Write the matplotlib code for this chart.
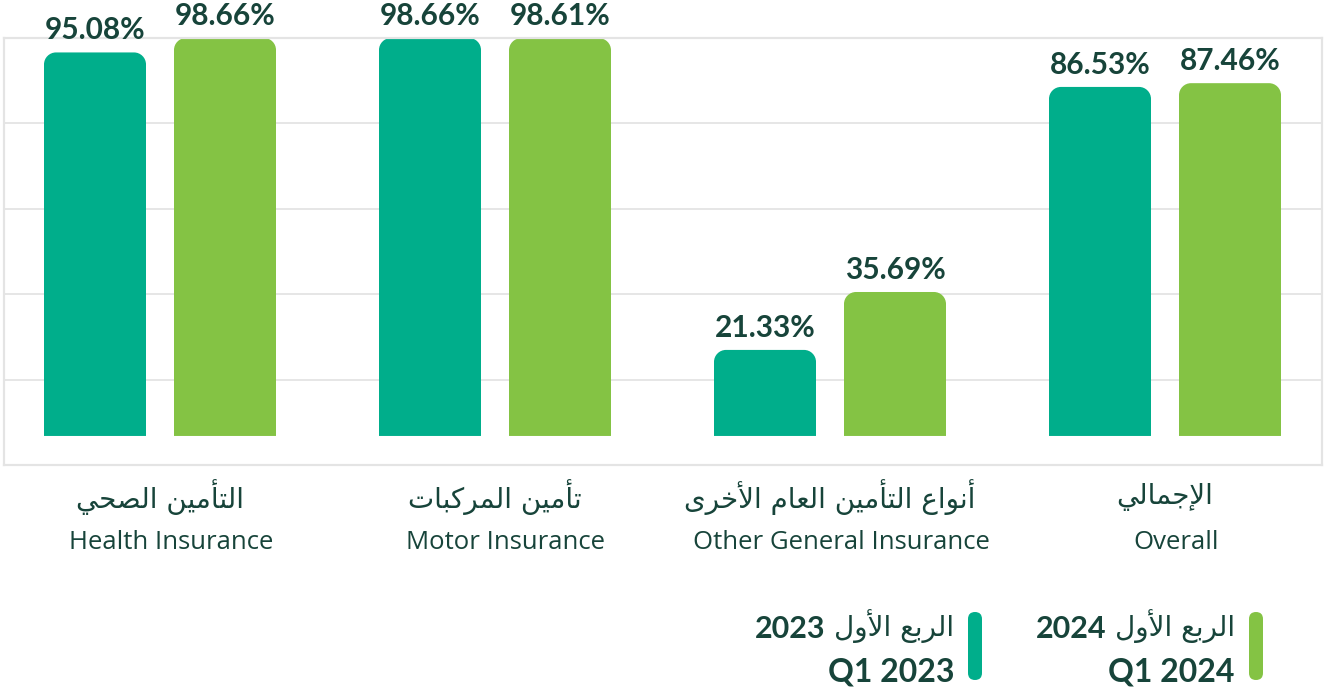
import numpy as np
import matplotlib
matplotlib.use("Agg")
import matplotlib.pyplot as plt
from matplotlib.path import Path
from matplotlib.patches import PathPatch, FancyBboxPatch
from matplotlib.transforms import blended_transform_factory, IdentityTransform

# data
cats_ar = ["التأمين الصحي", "تأمين المركبات", "أنواع التأمين العام الأخرى", "الإجمالي"]
cats_en = ["Health Insurance", "Motor Insurance", "Other General Insurance", "Overall"]
q1_2023 = [95.08, 98.66, 21.33, 86.53]
q1_2024 = [98.66, 98.61, 35.69, 87.46]
series_ar = ["الربع الأول", "الربع الأول"]
series_year = ["2023", "2024"]
series_en = ["Q1 2023", "Q1 2024"]

TEAL = "#00AE8B"
GREEN = "#84C344"
INK = "#17443A"
GRID = "#E4E4E4"

# very small arabic shaper (presentation forms) since matplotlib has no shaping
FORMS = {
    'ا': (0xFE8D, 0xFE8E), 'أ': (0xFE83, 0xFE84), 'إ': (0xFE87, 0xFE88),
    'ب': (0xFE8F, 0xFE90, 0xFE91, 0xFE92), 'ت': (0xFE95, 0xFE96, 0xFE97, 0xFE98),
    'ج': (0xFE9D, 0xFE9E, 0xFE9F, 0xFEA0), 'ح': (0xFEA1, 0xFEA2, 0xFEA3, 0xFEA4),
    'خ': (0xFEA5, 0xFEA6, 0xFEA7, 0xFEA8), 'ر': (0xFEAD, 0xFEAE),
    'ص': (0xFEB9, 0xFEBA, 0xFEBB, 0xFEBC), 'ع': (0xFEC9, 0xFECA, 0xFECB, 0xFECC),
    'ك': (0xFED9, 0xFEDA, 0xFEDB, 0xFEDC), 'ل': (0xFEDD, 0xFEDE, 0xFEDF, 0xFEE0),
    'م': (0xFEE1, 0xFEE2, 0xFEE3, 0xFEE4), 'ن': (0xFEE5, 0xFEE6, 0xFEE7, 0xFEE8),
    'و': (0xFEED, 0xFEEE), 'ى': (0xFEEF, 0xFEF0),
    'ي': (0xFEF1, 0xFEF2, 0xFEF3, 0xFEF4),
}
LAM_ALEF = {'ا': (0xFEFB, 0xFEFC), 'أ': (0xFEF7, 0xFEF8), 'إ': (0xFEF9, 0xFEFA)}


def ar(s):
    out = []
    prev = False
    i = 0
    while i < len(s):
        c = s[i]
        if c not in FORMS:
            out.append(c)
            prev = False
            i += 1
            continue
        if c == 'ل' and i + 1 < len(s) and s[i + 1] in LAM_ALEF:
            out.append(chr(LAM_ALEF[s[i + 1]][1 if prev else 0]))
            prev = False
            i += 2
            continue
        f = FORMS[c]
        nxt = len(f) == 4 and i + 1 < len(s) and s[i + 1] in FORMS
        if prev and nxt:
            k = 3
        elif prev:
            k = 1
        elif nxt:
            k = 2
        else:
            k = 0
        out.append(chr(f[k]))
        prev = len(f) == 4
        i += 1
    return "".join(reversed(out))


LATIN = ["Lato", "DejaVu Sans"]
ENG = ["Open Sans", "DejaVu Sans"]
ARAB = ["DejaVu Sans"]

W, H = 1328, 691
fig = plt.figure(figsize=(W / 100, H / 100), dpi=100)
ax = fig.add_axes([4 / W, 1 - 465 / H, 1318 / W, 427 / H])

x = np.arange(len(cats_en))
off = 65 / 335
bw = 102 / 335
b1 = ax.bar(x - off, q1_2023, bw, color=TEAL)
b2 = ax.bar(x + off, q1_2024, bw, color=GREEN)

ytop = max(max(q1_2023), max(q1_2024))
ax.set_ylim(-7.2, ytop)
ax.set_xlim(-156 / 335, 3 + 157 / 335)
ax.set_yticks(np.linspace(-7.2, ytop, 6))
ax.set_xticks([])
ax.tick_params(left=False, labelleft=False)
ax.grid(axis="y", color=GRID, lw=1.3)
ax.set_axisbelow(True)
for s in ax.spines.values():
    s.set_color(GRID)
    s.set_linewidth(1.6)


def round_top(bar, r=12):
    (x0, y0), (x1, y1) = ax.transData.transform([[bar.get_x(), bar.get_y()],
                                                [bar.get_x() + bar.get_width(), bar.get_height()]])
    k = 0.5523 * r
    verts = [(x0, y0), (x0, y1 - r), (x0, y1 - r + k), (x0 + r - k, y1), (x0 + r, y1),
             (x1 - r, y1), (x1 - r + k, y1), (x1, y1 - r + k), (x1, y1 - r),
             (x1, y0), (x0, y0)]
    codes = [Path.MOVETO, Path.LINETO, Path.CURVE4, Path.CURVE4, Path.CURVE4,
             Path.LINETO, Path.CURVE4, Path.CURVE4, Path.CURVE4,
             Path.LINETO, Path.CLOSEPOLY]
    verts = ax.transData.inverted().transform(verts)
    p = PathPatch(Path(verts, codes), facecolor=bar.get_facecolor(), edgecolor="none", zorder=2)
    ax.add_patch(p)
    bar.set_visible(False)


for bars in (b1, b2):
    for b in bars:
        round_top(b)
        ax.annotate(f"{b.get_height():.2f}%", (b.get_x() + b.get_width() / 2, b.get_height()),
                    xytext=(0, 13), textcoords="offset pixels", ha="center", va="baseline",
                    fontsize=21.5, fontweight="bold", color=INK, family=LATIN,
                    annotation_clip=False)

tr = blended_transform_factory(ax.transData, fig.transFigure)
for i in range(len(cats_en)):
    ax.text(x[i], 1 - 497 / H, ar(cats_ar[i]), transform=tr, ha="center", va="center",
            fontsize=20, color=INK, family=ARAB)
    ax.annotate(cats_en[i], (x[i], 1 - 549 / H), xycoords=tr, xytext=(11, 0),
                textcoords="offset pixels", ha="center", va="baseline",
                fontsize=18.5, color=INK, family=ENG, annotation_clip=False)

# legend
fig.canvas.draw()
renderer = fig.canvas.get_renderer()
for j, (col, xr, xp) in enumerate([(TEAL, 954, 968), (GREEN, 1235, 1249)]):
    pill = FancyBboxPatch((xp, H - 680), 14, 68, boxstyle="round,pad=0,rounding_size=7",
                          facecolor=col, edgecolor="none", transform=IdentityTransform())
    fig.patches.append(pill)
    t = fig.text(xr / W, 1 - 626 / H, ar(series_ar[j]), ha="right", va="center",
                 fontsize=20, color=INK, family=ARAB)
    ext = t.get_window_extent(renderer)
    fig.text((ext.x0 - 8) / W, 1 - 638 / H, series_year[j], ha="right", va="baseline",
             fontsize=22, fontweight="bold", color=INK, family=LATIN)
    fig.text(xr / W, 1 - 681 / H, series_en[j], ha="right", va="baseline",
             fontsize=23, fontweight="bold", color=INK, family=LATIN)

fig.savefig("out.png", dpi=100)
